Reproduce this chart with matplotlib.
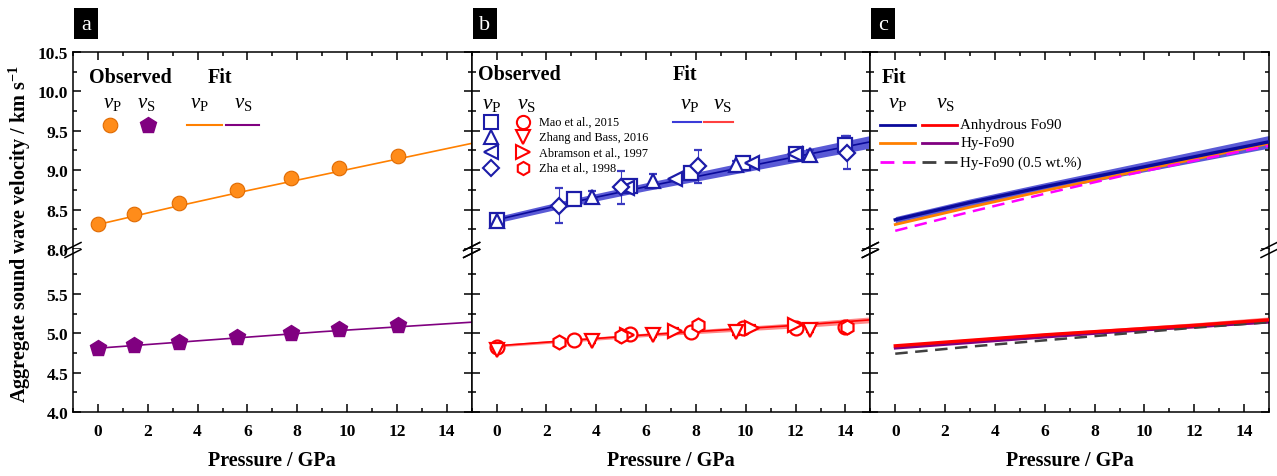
"""
Aggregate sound velocities of Fo90 olivine vs pressure, broken y axis, three panels.
"""

import matplotlib
matplotlib.use("Agg")
import matplotlib.pyplot as plt
from matplotlib.lines import Line2D
from matplotlib.patches import Rectangle

plt.rcParams["font.family"] = ["Liberation Serif", "DejaVu Serif"]
plt.rcParams["mathtext.fontset"] = "custom"
plt.rcParams["mathtext.rm"] = "Liberation Serif"
plt.rcParams["mathtext.it"] = "Liberation Serif:italic"
plt.rcParams["mathtext.bf"] = "Liberation Serif:bold"

# ---- data -----------------------------------------------------------------
# panel a: this study (Hy-Fo90)
p_obs = [0, 1.43, 3.27, 5.58, 7.73, 9.69, 12.03]
vp_obs = [8.32, 8.44, 8.58, 8.75, 8.90, 9.03, 9.18]
vs_obs = [4.81, 4.85, 4.89, 4.95, 5.00, 5.05, 5.10]

# fit curves (shared pressure grid)
p_fit = [0, 3, 6, 9, 12, 15]
hy_vp = [8.31, 8.53, 8.74, 8.94, 9.14, 9.34]
hy_vs = [4.81, 4.88, 4.95, 5.02, 5.08, 5.14]
anh_vp = [8.37, 8.59, 8.79, 8.98, 9.17, 9.36]
anh_vp_err = [0.04, 0.045, 0.05, 0.06, 0.07, 0.08]
anh_vs = [4.84, 4.91, 4.98, 5.04, 5.10, 5.17]
anh_vs_err = [0.015, 0.02, 0.022, 0.027, 0.032, 0.037]
hy05_vp = [8.23, 8.47, 8.70, 8.92, 9.12, 9.31]
hy05_vs = [4.74, 4.83, 4.91, 4.99, 5.07, 5.14]

# panel b: literature data on anhydrous olivine
mao_p = [0, 3.09, 5.36, 7.79, 9.87, 12.0, 13.99]
mao_vp = [8.37, 8.63, 8.80, 8.96, 9.09, 9.20, 9.32]
mao_vp_err = [0.03, 0.03, 0.03, 0.03, 0.03, 0.03, 0.12]
mao_vs = [4.83, 4.92, 4.99, 5.02, 5.06, 5.06, 5.08]

zb_p = [0, 3.83, 6.29, 9.6, 12.56]
zb_vp = [8.36, 8.66, 8.86, 9.07, 9.19]
zb_vp_err = [0.05, 0.07, 0.09, 0.05, 0.06]
zb_vs = [4.79, 4.90, 4.98, 5.01, 5.04]

abr_p = [5.23, 7.16, 10.27, 11.96]
abr_vp = [8.77, 8.89, 9.09, 9.20]
abr_vs = [4.98, 5.03, 5.07, 5.10]

zha_p = [2.52, 5.01, 8.09, 14.05]
zha_vp = [8.55, 8.78, 9.05, 9.22]
zha_vp_err = [0.22, 0.21, 0.21, 0.21]
zha_vs = [4.89, 4.97, 5.10, 5.08]

vs_err = 0.03

ref_labels = ["Mao et al., 2015", "Zhang and Bass, 2016",
              "Abramson et al., 1997", "Zha et al., 1998"]
c_labels = ["Anhydrous Fo90", "Hy-Fo90", "Hy-Fo90 (0.5 wt.%)"]

# ---- style ----------------------------------------------------------------
ORANGE = "#ff8000"
PURPLE = "#800080"
NAVY = "#0a0a9a"
BLUE = "#1c1ca8"
BAND_B = "#5a5ad6"
RED = "#ff0000"
BAND_R = "#ff6a6a"
MAGENTA = "#ff00ff"
GRAY = "#404040"

W, H = 1277, 477
fig = plt.figure(figsize=(W / 100, H / 100), dpi=100)
gs = fig.add_gridspec(2, 3, height_ratios=[2.5, 2.07], hspace=0, wspace=0,
                      left=73 / W, right=1269 / W, top=1 - 53 / H, bottom=1 - 413 / H)

TICK_FS = 12.5
axes = []
for col in range(3):
    top = fig.add_subplot(gs[0, col])
    bot = fig.add_subplot(gs[1, col], sharex=top)
    top.set_ylim(8.0, 10.5)
    bot.set_ylim(4.0, 6.07)
    top.set_xlim(-1, 15)
    top.set_yticks([8.0, 8.5, 9.0, 9.5, 10.0, 10.5])
    top.set_yticks([8.25, 8.75, 9.25, 9.75, 10.25], minor=True)
    bot.set_yticks([4.0, 4.5, 5.0, 5.5])
    bot.set_yticks([4.25, 4.75, 5.25, 5.75], minor=True)
    bot.set_xticks(range(0, 15, 2))
    bot.set_xticks(range(-1, 16, 1), minor=True)
    top.spines["bottom"].set_visible(False)
    bot.spines["top"].set_visible(False)
    for ax in (top, bot):
        for s in ax.spines.values():
            s.set_linewidth(1.1)
        ax.tick_params(which="both", direction="in", left=True, right=True, width=1.1)
        ax.tick_params(which="major", length=6)
        ax.tick_params(which="minor", length=3)
    top.tick_params(which="both", top=True, bottom=False, labelbottom=False)
    bot.tick_params(which="both", top=False, bottom=True)
    bot.tick_params(axis="x", pad=8)
    for lab in bot.get_xticklabels():
        lab.set_fontsize(TICK_FS)
        lab.set_fontweight("bold")
    if col == 0:
        for ax in (top, bot):
            for lab in ax.get_yticklabels():
                lab.set_fontsize(TICK_FS)
                lab.set_fontweight("bold")
    else:
        top.tick_params(labelleft=False)
        bot.tick_params(labelleft=False)
    bot.set_xlabel("Pressure / GPa", fontsize=14.5, fontweight="bold", labelpad=8)
    axes.append((top, bot))

# ---- panel a --------------------------------------------------------------
ta, ba = axes[0]
ta.plot(p_fit, hy_vp, color=ORANGE, lw=1.2, zorder=2)
ba.plot(p_fit, hy_vs, color=PURPLE, lw=1.2, zorder=2)
ta.plot(p_obs, vp_obs, "o", ms=10.5, mfc="#ff8c1a", mec="#e06a00", mew=0.8, zorder=3)
ba.plot(p_obs, vs_obs, "p", ms=12, mfc=PURPLE, mec=PURPLE, zorder=3)

ta.text(0.145, 0.873, "Observed", transform=ta.transAxes, fontsize=14.5,
        fontweight="bold", ha="center", va="center")
ta.text(0.368, 0.873, "Fit", transform=ta.transAxes, fontsize=14.5,
        fontweight="bold", ha="center", va="center")
for x, t in [(0.098, r"$v_{\mathrm{P}}$"), (0.185, r"$v_{\mathrm{S}}$"),
             (0.318, r"$v_{\mathrm{P}}$"), (0.426, r"$v_{\mathrm{S}}$")]:
    ta.text(x, 0.746, t, transform=ta.transAxes, fontsize=15, ha="center", va="center")
ta.plot([0.093], [0.631], "o", ms=10.5, mfc="#ff8c1a", mec="#e06a00", mew=0.8,
        transform=ta.transAxes)
ta.plot([0.187], [0.631], "p", ms=12, mfc=PURPLE, mec=PURPLE, transform=ta.transAxes)
ta.plot([0.286, 0.373], [0.631, 0.631], color=ORANGE, lw=1.5, transform=ta.transAxes)
ta.plot([0.383, 0.466], [0.631, 0.631], color=PURPLE, lw=1.5, transform=ta.transAxes)

# ---- panel b --------------------------------------------------------------
tb, bb = axes[1]
lo = [v - e for v, e in zip(anh_vp, anh_vp_err)]
hi = [v + e for v, e in zip(anh_vp, anh_vp_err)]
tb.fill_between(p_fit, lo, hi, color=BAND_B, lw=0, zorder=1)
tb.plot(p_fit, anh_vp, color=NAVY, lw=1.2, zorder=2)
lo = [v - e for v, e in zip(anh_vs, anh_vs_err)]
hi = [v + e for v, e in zip(anh_vs, anh_vs_err)]
bb.fill_between(p_fit, lo, hi, color=BAND_R, lw=0, alpha=0.8, zorder=1)
bb.plot(p_fit, anh_vs, color=RED, lw=1.2, zorder=2)

mk = dict(mfc="white", mew=1.6, ls="none", capsize=3, elinewidth=0.8, zorder=3)
vp_sets = [(mao_p, mao_vp, mao_vp_err, "s"), (zb_p, zb_vp, zb_vp_err, "^"),
           (abr_p, abr_vp, None, "<"), (zha_p, zha_vp, zha_vp_err, "D")]
vs_sets = [(mao_p, mao_vs, "o"), (zb_p, zb_vs, "v"), (abr_p, abr_vs, ">"),
           (zha_p, zha_vs, "h")]
for p, v, e, m in vp_sets:
    tb.errorbar(p, v, yerr=e, fmt=m, color=BLUE, mec=BLUE, ms=8.5 if m == "D" else 10,
                ecolor="#3a3ac0", **mk)
for p, v, m in vs_sets:
    bb.errorbar(p, v, yerr=vs_err, fmt=m, color=RED, mec=RED, ms=10, ecolor=RED, **mk)

tb.text(0.015, 0.888, "Observed", transform=tb.transAxes, fontsize=14.5,
        fontweight="bold", ha="left", va="center")
tb.text(0.535, 0.888, "Fit", transform=tb.transAxes, fontsize=14.5,
        fontweight="bold", ha="center", va="center")
for x, t in [(0.05, r"$v_{\mathrm{P}}$"), (0.138, r"$v_{\mathrm{S}}$"),
             (0.548, r"$v_{\mathrm{P}}$"), (0.628, r"$v_{\mathrm{S}}$")]:
    tb.text(x, 0.736, t, transform=tb.transAxes, fontsize=15.5, ha="center", va="center")
rows = [0.646, 0.570, 0.491, 0.410]
for (pv, sv, lab, y) in zip(["s", "^", "<", "D"], ["o", "v", ">", "h"], ref_labels, rows):
    tb.plot([0.048], [y], pv, ms=8.5 if pv == "D" else 9.5, mfc="white", mec=BLUE,
            mew=1.5, transform=tb.transAxes)
    tb.plot([0.128], [y], sv, ms=9.5, mfc="white", mec=RED, mew=1.5,
            transform=tb.transAxes)
    tb.text(0.168, y, lab, transform=tb.transAxes, fontsize=8.8, ha="left", va="center")
tb.plot([0.505, 0.575], [0.646, 0.646], color="#3b3bd8", lw=1.5, transform=tb.transAxes)
tb.plot([0.583, 0.656], [0.646, 0.646], color="#ff4040", lw=1.5, transform=tb.transAxes)

# ---- panel c --------------------------------------------------------------
tc, bc = axes[2]
lo = [v - e for v, e in zip(anh_vp, anh_vp_err)]
hi = [v + e for v, e in zip(anh_vp, anh_vp_err)]
tc.fill_between(p_fit, lo, hi, color=BAND_B, lw=0, zorder=1)
tc.plot(p_fit, anh_vp, color=NAVY, lw=2.4, zorder=3)
tc.plot(p_fit, hy_vp, color=ORANGE, lw=2, zorder=2)
tc.plot(p_fit, hy05_vp, color=MAGENTA, lw=1.8, ls=(0, (5, 3)), zorder=2)
lo = [v - e for v, e in zip(anh_vs, anh_vs_err)]
hi = [v + e for v, e in zip(anh_vs, anh_vs_err)]
bc.fill_between(p_fit, lo, hi, color=BAND_R, lw=0, alpha=0.8, zorder=1)
bc.plot(p_fit, anh_vs, color=RED, lw=2.4, zorder=3)
bc.plot(p_fit, hy_vs, color=PURPLE, lw=2, zorder=2)
bc.plot(p_fit, hy05_vs, color=GRAY, lw=1.8, ls=(0, (5, 3)), zorder=2)

tc.text(0.028, 0.873, "Fit", transform=tc.transAxes, fontsize=14.5,
        fontweight="bold", ha="left", va="center")
for x, t in [(0.068, r"$v_{\mathrm{P}}$"), (0.188, r"$v_{\mathrm{S}}$")]:
    tc.text(x, 0.746, t, transform=tc.transAxes, fontsize=15.5, ha="center", va="center")
leg_rows = [0.631, 0.538, 0.44]
leg_styles = [(NAVY, RED, "-"), (ORANGE, PURPLE, "-"), (MAGENTA, GRAY, (0, (5, 3)))]
for y, (c1, c2, ls), lab in zip(leg_rows, leg_styles, c_labels):
    tc.plot([0.025, 0.113], [y, y], color=c1, lw=2, ls=ls, transform=tc.transAxes)
    tc.plot([0.13, 0.218], [y, y], color=c2, lw=2, ls=ls, transform=tc.transAxes)
    tc.text(0.226, y, lab, transform=tc.transAxes, fontsize=10.8, ha="left", va="center")

# ---- break marks, panel tags, y label ---------------------------------------
y_break = 1 - 251 / H
dx, dy, gap = 8 / W, 4 / H, 3.5 / H
for col, (top, bot) in enumerate(axes):
    pos = top.get_position()
    for xs in (pos.x0, pos.x1):
        for off in (-gap, gap):
            fig.add_artist(Line2D([xs - dx, xs + dx],
                                  [y_break + off - dy, y_break + off + dy],
                                  color="black", lw=1.1, transform=fig.transFigure))
    fig.add_artist(Rectangle((pos.x0 + 1 / W, 1 - 40 / H), 24 / W, 31 / H,
                             facecolor="black", edgecolor="none",
                             transform=fig.transFigure))
    fig.text(pos.x0 + 13 / W, 1 - 25 / H, "abc"[col], color="white", fontsize=16,
             ha="center", va="center")

fig.text(20 / W, 1 - 234 / H, r"Aggregate sound wave velocity / km s$^{\mathbf{-1}}$",
         rotation=90, fontsize=14.5, fontweight="bold", ha="center", va="center")

fig.savefig("out.png", dpi=100)
